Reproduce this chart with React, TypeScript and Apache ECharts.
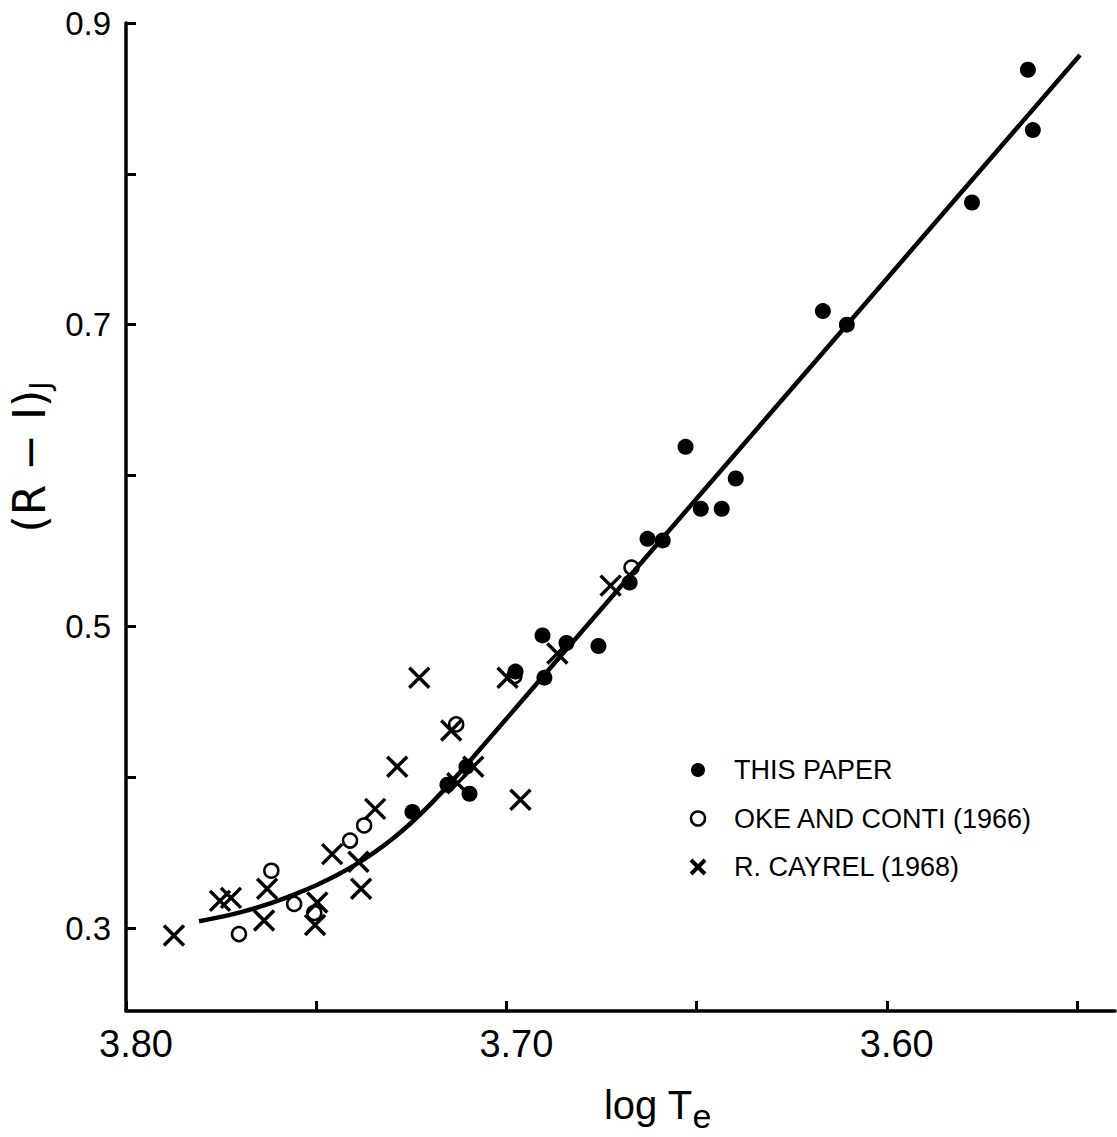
import React, { useEffect, useRef } from "react";
import * as echarts from "echarts";

// log Te / (R-I)J pairs for each source
const thisPaperX = [3.7247, 3.7155, 3.7097, 3.7105, 3.6976, 3.6905, 3.69, 3.6842, 3.6758, 3.6676, 3.6629, 3.6589, 3.6529, 3.6489, 3.6434, 3.6397, 3.6168, 3.6105, 3.5776, 3.5629, 3.5616];
const thisPaperY = [0.377, 0.395, 0.389, 0.407, 0.47, 0.494, 0.466, 0.489, 0.487, 0.529, 0.558, 0.557, 0.619, 0.578, 0.578, 0.598, 0.709, 0.7, 0.781, 0.869, 0.829];

const okeContiX = [3.7703, 3.7618, 3.7558, 3.7505, 3.7411, 3.7374, 3.7132, 3.6979, 3.6671];
const okeContiY = [0.296, 0.338, 0.316, 0.31, 0.358, 0.368, 0.435, 0.467, 0.539];

const cayrelX = [3.7874, 3.7753, 3.7724, 3.7637, 3.7629, 3.7497, 3.7503, 3.7458, 3.7389, 3.7382, 3.7345, 3.7287, 3.7229, 3.7145, 3.7129, 3.7087, 3.6963, 3.6997, 3.6866, 3.6726];
const cayrelY = [0.295, 0.318, 0.32, 0.305, 0.326, 0.317, 0.302, 0.349, 0.344, 0.326, 0.379, 0.407, 0.466, 0.431, 0.396, 0.407, 0.385, 0.466, 0.482, 0.527];

// mean relation: curved at the hot end, straight towards the cool end
const curveX = [3.7808, 3.775, 3.77, 3.765, 3.76, 3.755, 3.75, 3.745, 3.74, 3.735, 3.73, 3.725, 3.72, 3.715, 3.71, 3.68, 3.64, 3.6, 3.5492];
const curveY = [0.3045, 0.3074, 0.3104, 0.314, 0.3182, 0.323, 0.3284, 0.3345, 0.3415, 0.3496, 0.359, 0.3698, 0.382, 0.3954, 0.4096, 0.4971, 0.6138, 0.7305, 0.8788];

const xTicks = [3.8, 3.75, 3.7, 3.65, 3.6, 3.55];
const xLabels = [3.8, 3.7, 3.6];
const yTicks = [0.3, 0.4, 0.5, 0.6, 0.7, 0.8, 0.9];
const yLabels = [0.3, 0.5, 0.7, 0.9];

const seriesNames = ["THIS PAPER", "OKE AND CONTI (1966)", "R. CAYREL (1968)"];

const FONT = "Liberation Sans";
const CROSS = "path://M0,0L10,10M10,0L0,10";

const zip = (xs: number[], ys: number[]) => xs.map((x, i) => [x, ys[i]]);

export default function App() {
  const ref = useRef<HTMLDivElement>(null);

  useEffect(() => {
    if (!ref.current) return;
    const chart = echarts.init(ref.current, null, { renderer: "svg" });
    chart.setOption({
      animation: false,
      backgroundColor: "#ffffff",
      grid: { left: 126, right: 2, top: 23, bottom: 126, outerBoundsMode: "none", containLabel: false },
      legend: {
        orient: "vertical",
        left: 684,
        top: 749,
        itemWidth: 14,
        itemHeight: 14,
        itemGap: 16.5,
        selectedMode: false,
        textStyle: {
          fontFamily: FONT,
          fontSize: 27,
          color: "#000",
          lineHeight: 32,
          padding: [0, 0, 0, 24],
        },
        data: [
          { name: seriesNames[0] },
          { name: seriesNames[1], itemStyle: { borderWidth: 2.5, borderColor: "#000", color: "rgba(0,0,0,0)" } },
          { name: seriesNames[2], itemStyle: { borderWidth: 4, borderColor: "#000", color: "rgba(0,0,0,0)" } },
        ],
      },
      xAxis: {
        type: "value",
        inverse: true,
        min: 3.54,
        max: 3.8,
        name: "{a|log T}{b|e}",
        nameLocation: "middle",
        nameGap: 66,
        nameTextStyle: {
          padding: [0, 0, 0, 74],
          rich: {
            a: { fontFamily: FONT, fontSize: 40, lineHeight: 56, verticalAlign: "middle", color: "#000" },
            b: { fontFamily: FONT, fontSize: 34, lineHeight: 34, verticalAlign: "bottom", color: "#000" },
          },
        },
        splitLine: { show: false },
        axisLine: { lineStyle: { color: "#000", width: 3.5 } },
        axisTick: { inside: true, length: 10, customValues: xTicks, lineStyle: { color: "#000", width: 3 } },
        axisLabel: {
          customValues: xLabels,
          formatter: (v: number) => v.toFixed(2),
          fontFamily: FONT,
          fontSize: 38,
          color: "#000",
          margin: 14,
          padding: [0, 0, 0, 20],
        },
      },
      yAxis: {
        type: "value",
        min: 0.245,
        max: 0.9,
        name: "{a|(R − I)}{b|J}",
        nameLocation: "middle",
        nameRotate: 90,
        nameGap: 62,
        nameTextStyle: {
          padding: [0, 0, 0, 120],
          rich: {
            a: { fontFamily: "DejaVu Sans", fontSize: 44, lineHeight: 50, verticalAlign: "middle", color: "#000" },
            b: { fontFamily: "DejaVu Sans", fontSize: 28, lineHeight: 24, verticalAlign: "bottom", color: "#000" },
          },
        },
        splitLine: { show: false },
        axisLine: { lineStyle: { color: "#000", width: 3.5 } },
        axisTick: { inside: true, length: 10, customValues: yTicks, lineStyle: { color: "#000", width: 3 } },
        axisLabel: {
          customValues: yLabels,
          formatter: (v: number) => v.toFixed(1),
          fontFamily: FONT,
          fontSize: 33,
          color: "#000",
          margin: 15,
        },
      },
      series: [
        {
          name: "curve",
          type: "line",
          data: zip(curveX, curveY),
          smooth: 0.3,
          showSymbol: false,
          silent: true,
          lineStyle: { color: "#000", width: 4.5 },
          z: 1,
        },
        {
          name: seriesNames[1],
          type: "scatter",
          data: zip(okeContiX, okeContiY),
          symbol: "circle",
          symbolSize: 14,
          itemStyle: { color: "rgba(0,0,0,0)", borderColor: "#000", borderWidth: 2.5, opacity: 1 },
          z: 3,
        },
        {
          name: seriesNames[0],
          type: "scatter",
          data: zip(thisPaperX, thisPaperY),
          symbol: "circle",
          symbolSize: 16,
          itemStyle: { color: "#000", opacity: 1 },
          z: 4,
        },
        {
          name: seriesNames[2],
          type: "scatter",
          data: zip(cayrelX, cayrelY),
          symbol: CROSS,
          symbolSize: 20,
          itemStyle: { color: "rgba(0,0,0,0)", borderColor: "#000", borderWidth: 3.5, opacity: 1 },
          z: 5,
        },
      ],
    });
    return () => chart.dispose();
  }, []);

  return <div ref={ref} style={{ width: 1117, height: 1137, position: "absolute", left: 0, top: 0 }} />;
}
